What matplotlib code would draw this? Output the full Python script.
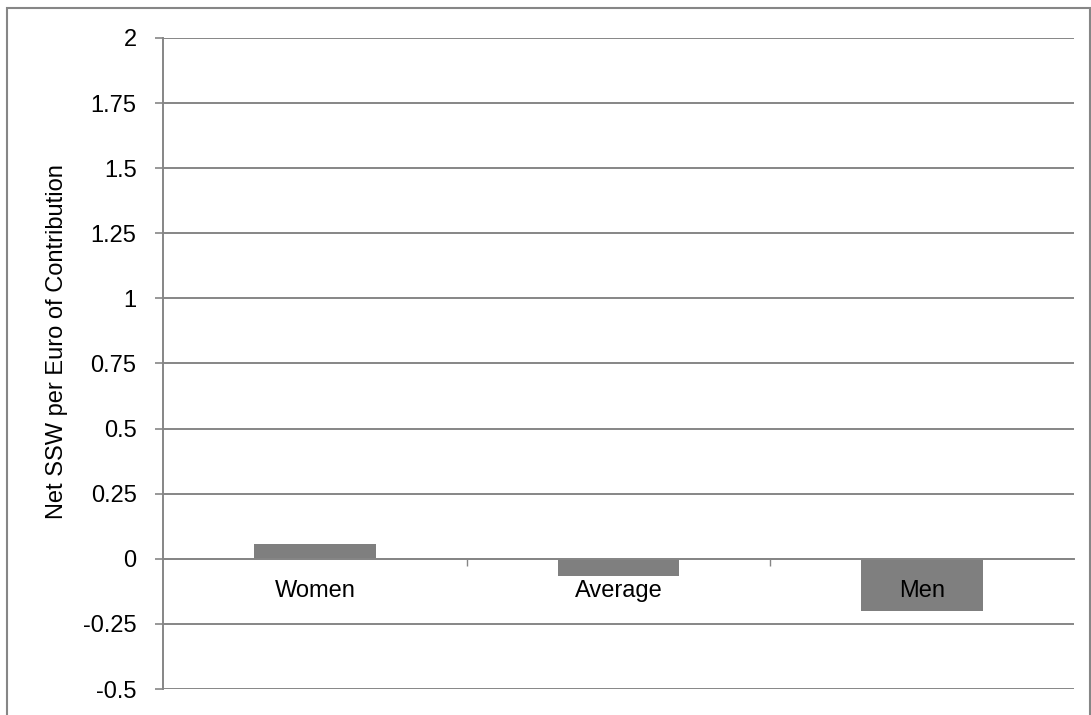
import numpy as np
import matplotlib.pyplot as plt
from matplotlib.patches import Rectangle

plt.rcParams['font.family'] = ['Liberation Sans', 'DejaVu Sans']

# data
categories = ['Women', 'Average', 'Men']
values = [0.055, -0.065, -0.2]
yticks = [-0.5, -0.25, 0, 0.25, 0.5, 0.75, 1, 1.25, 1.5, 1.75, 2]
ytick_labels = ['-0.5', '-0.25', '0', '0.25', '0.5', '0.75', '1', '1.25', '1.5', '1.75', '2']

W, H = 1091, 715
grey = '#868686'
bar_col = '#7f7f7f'
fs = 17

fig = plt.figure(figsize=(W / 100, H / 100), dpi=100)
ax = fig.add_axes([163 / W, (H - 689) / H, (1074 - 163) / W, (689 - 38) / H])

# outer chart frame (bottom edge is cut off in the reference)
fig.patches.append(Rectangle((7 / W, -0.1), (1090 - 7) / W, (H - 8) / H + 0.1,
                             transform=fig.transFigure, fill=False,
                             edgecolor=grey, lw=1.5))

x = np.arange(len(categories))
ax.bar(x, values, width=0.4, color=bar_col, zorder=2)

ax.set_xlim(-0.5, len(categories) - 0.5)
ax.set_ylim(-0.5, 2)
ax.set_yticks(yticks)
ax.set_yticklabels(ytick_labels, fontsize=fs)
ax.yaxis.grid(True, color=grey, lw=1.4, zorder=0)
ax.set_axisbelow(True)

for s in ['top', 'right']:
    ax.spines[s].set_visible(False)
ax.spines['left'].set_color(grey)
ax.spines['left'].set_linewidth(1.4)
ax.spines['bottom'].set_position(('data', 0))
ax.spines['bottom'].set_color(grey)
ax.spines['bottom'].set_linewidth(1.4)
ax.spines['bottom'].set_zorder(3)

ax.tick_params(axis='y', length=6, width=1.2, color=grey, pad=13)
ax.set_xticks(np.arange(len(categories) - 1) + 0.5)
ax.set_xticklabels([])
ax.tick_params(axis='x', length=5, width=1, color=grey, direction='out')

for i, c in enumerate(categories):
    ax.annotate(c, xy=(i, 0), xytext=(0, -32), textcoords='offset pixels',
                ha='center', va='center', fontsize=fs, zorder=4)

fig.text(57 / W, 1 - 342 / H, 'Net SSW per Euro of Contribution',
         rotation=90, ha='center', va='center', fontsize=fs)

fig.savefig('out.png', dpi=100)
